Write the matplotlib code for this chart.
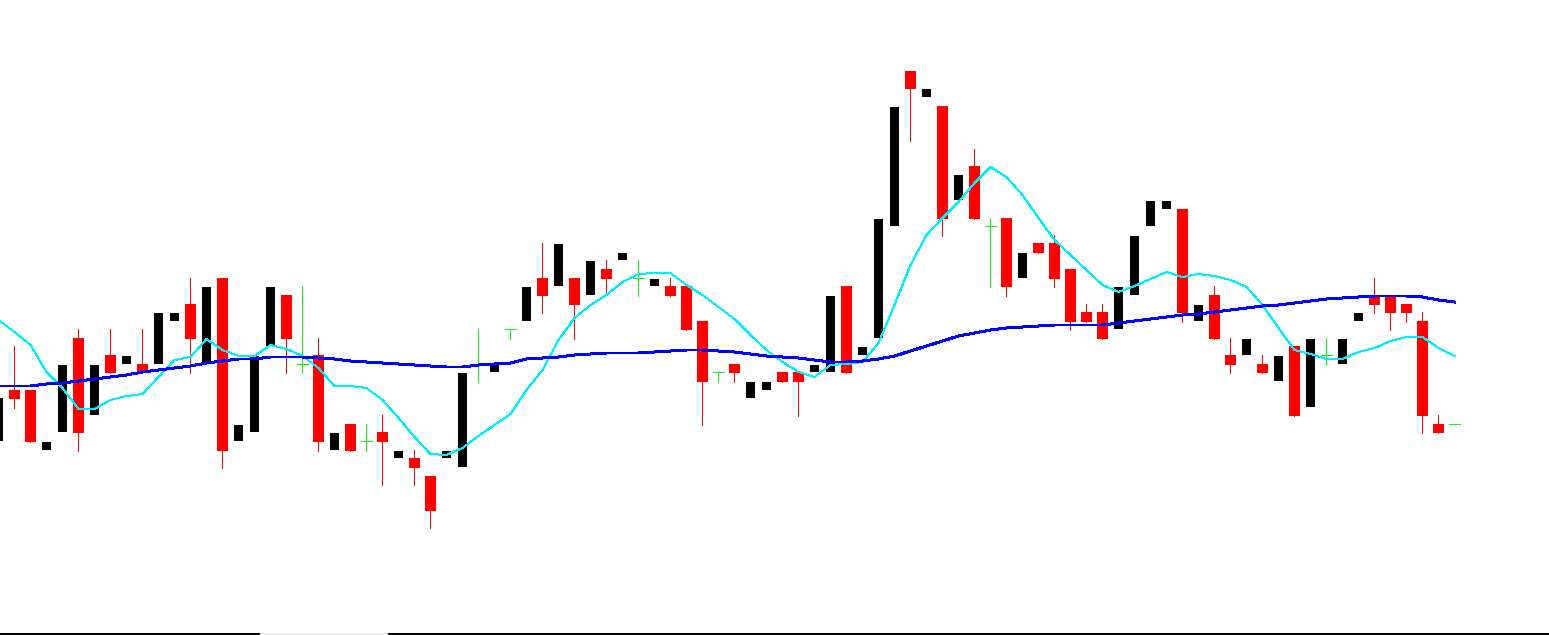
import matplotlib
matplotlib.use('Agg')
import matplotlib.pyplot as plt
from matplotlib.lines import Line2D
import numpy as np

# OHLC values (one entry per candle, left to right)
opens = [19.4, 24.5, 24.5, 18.5, 20.3, 29.7, 22.0, 28.0, 27.1, 27.1,
         27.1, 31.4, 33.1, 27.1, 35.7, 19.4, 20.3, 28.9, 34.0, 27.1,
         28.0, 18.5, 21.1, 19.4, 20.3, 17.7, 17.7, 15.9, 17.7, 16.8,
         27.0, 26.3, 30.6, 31.4, 35.7, 34.9, 35.7, 34.0, 36.6, 37.5,
         35.7, 34.9, 34.9, 34.9, 31.4, 26.3, 27.1, 23.7, 24.5, 26.3,
         26.3, 26.3, 26.3, 34.9, 28.0, 29.7, 40.9, 56.4, 53.8, 52.9,
         43.5, 46.9, 40.9, 41.7, 35.7, 39.2, 39.2, 36.6, 32.3, 32.3,
         30.6, 34.0, 40.9, 42.6, 42.6, 31.4, 34.0, 28.0, 28.0, 27.1,
         25.4, 28.9, 22.8, 28.0, 27.1, 31.4, 34.0, 34.0, 33.1, 31.4,
         21.1, 21.1]
highs = [23.7, 28.9, 24.5, 19.3, 27.0, 30.6, 27.0, 30.6, 27.9, 30.6,
         32.2, 32.2, 35.7, 34.8, 35.7, 21.0, 27.9, 34.8, 34.0, 34.9,
         29.7, 20.2, 21.1, 21.1, 22.0, 18.4, 18.5, 15.9, 18.4, 26.2,
         30.6, 27.1, 30.6, 34.8, 39.2, 39.1, 35.7, 37.4, 37.5, 38.2,
         37.5, 35.6, 35.7, 34.9, 31.4, 26.3, 27.1, 25.3, 25.3, 26.3,
         26.3, 27.0, 33.9, 34.9, 28.8, 41.6, 52.8, 56.4, 54.6, 52.9,
         46.0, 48.6, 41.7, 41.7, 38.2, 39.2, 40.0, 36.6, 33.1, 33.1,
         34.8, 39.9, 43.4, 43.4, 42.6, 33.0, 34.9, 29.7, 29.6, 28.0,
         27.9, 28.9, 29.6, 29.7, 29.6, 32.2, 35.7, 34.0, 33.1, 32.3,
         22.0, 21.1]
lows = [19.4, 22.7, 19.3, 18.5, 20.3, 18.4, 22.0, 26.2, 27.1, 26.2,
        27.1, 31.4, 26.2, 27.1, 16.7, 19.4, 20.3, 28.9, 26.2, 26.2,
        18.4, 18.5, 18.4, 18.4, 15.0, 17.7, 15.0, 10.7, 17.7, 16.8,
        25.3, 26.3, 29.6, 31.4, 32.2, 34.9, 29.6, 34.0, 34.0, 37.5,
        33.9, 34.9, 33.9, 30.5, 21.0, 25.3, 25.3, 23.7, 24.5, 25.3,
        21.9, 26.3, 26.3, 26.2, 28.0, 29.7, 40.9, 49.4, 53.8, 39.9,
        43.5, 41.6, 34.8, 33.9, 35.7, 38.2, 34.8, 30.5, 31.3, 29.6,
        30.6, 34.0, 40.9, 42.6, 31.3, 31.4, 29.6, 26.2, 28.0, 26.2,
        25.4, 21.9, 22.8, 27.0, 27.1, 31.4, 32.2, 30.5, 31.3, 20.2,
        20.2, 21.1]
closes = [23.7, 23.6, 19.3, 19.3, 27.0, 20.2, 27.0, 26.2, 27.9, 26.2,
          32.2, 32.2, 29.6, 34.8, 18.4, 21.0, 27.9, 34.8, 29.6, 27.1,
          19.3, 20.2, 18.4, 19.4, 19.3, 18.4, 16.7, 12.4, 18.4, 26.2,
          27.0, 27.1, 30.6, 34.8, 33.9, 39.1, 33.0, 37.4, 35.6, 38.2,
          35.7, 35.6, 33.9, 30.5, 25.3, 26.3, 26.2, 25.3, 25.3, 25.3,
          25.3, 27.0, 33.9, 26.2, 28.8, 41.6, 52.8, 54.6, 54.6, 41.6,
          46.0, 41.6, 40.9, 34.8, 38.2, 38.2, 35.6, 31.3, 31.3, 29.6,
          34.8, 39.9, 43.4, 43.4, 32.2, 33.0, 29.6, 27.0, 29.6, 26.2,
          27.9, 21.9, 29.6, 28.0, 29.6, 32.2, 33.0, 32.2, 32.2, 21.9,
          20.2, 21.1]

# moving averages
ma_fast = [31.5, 30.3, 29.0, 26.3, 24.7, 22.6, 22.6, 23.5, 23.9, 24.1,
           25.8, 27.5, 27.8, 29.6, 28.5, 27.9, 27.9, 29.0, 28.6, 27.9,
           26.7, 24.9, 24.9, 24.7, 23.5, 21.7, 19.8, 18.1, 18.0, 18.7,
           19.9, 21.0, 22.1, 24.5, 26.5, 29.5, 31.7, 33.0, 34.0, 35.3,
           36.1, 36.2, 36.2, 35.0, 34.0, 32.8, 31.6, 30.0, 28.5, 27.3,
           26.3, 25.8, 27.0, 27.1, 27.3, 29.2, 33.0, 37.0, 40.0, 41.7,
           43.3, 45.2, 46.8, 45.8, 44.0, 41.7, 39.5, 38.0, 36.5, 35.0,
           34.3, 34.9, 35.6, 36.3, 35.8, 36.1, 35.9, 35.5, 34.8, 33.0,
           30.7, 28.5, 28.1, 27.6, 27.6, 28.3, 28.7, 29.4, 29.8, 29.8,
           28.7, 27.9]
ma_slow = [24.9, 24.9, 24.9, 25.1, 25.2, 25.4, 25.6, 25.8, 26.0, 26.3,
           26.5, 26.7, 26.9, 27.2, 27.4, 27.6, 27.6, 27.8, 27.8, 27.8,
           27.7, 27.6, 27.4, 27.3, 27.2, 27.1, 27.0, 26.9, 26.8, 26.8,
           27.0, 27.1, 27.2, 27.6, 27.7, 27.8, 28.0, 28.1, 28.2, 28.2,
           28.2, 28.3, 28.4, 28.5, 28.5, 28.4, 28.3, 28.1, 27.9, 27.8,
           27.7, 27.5, 27.3, 27.3, 27.4, 27.6, 27.9, 28.4, 28.9, 29.4,
           29.9, 30.2, 30.5, 30.7, 30.8, 30.9, 31.0, 31.0, 31.0, 31.0,
           31.2, 31.4, 31.6, 31.8, 32.0, 32.1, 32.3, 32.5, 32.7, 32.9,
           33.0, 33.2, 33.4, 33.6, 33.7, 33.8, 33.9, 33.9, 33.9, 33.8,
           33.5, 33.3]

W, H = 1549, 635
fig = plt.figure(figsize=(W / 100, H / 100), dpi=100)
ax = fig.add_axes([0, 0, 1, 1])
ax.axis('off')

px = 0.72  # one pixel in points
x = np.arange(len(opens))
o = np.array(opens); h = np.array(highs); l = np.array(lows); c = np.array(closes)

up = c > o
down = c < o
doji = c == o

# bullish: black bodies, no visible wicks
ax.bar(x[up], (c - o)[up], bottom=o[up], width=9 / 16, color='black',
       linewidth=0, zorder=2, antialiased=False)

# bearish: red bodies with red wicks
ax.vlines(x[down], l[down], h[down], color='#ff0000', linewidth=px,
          zorder=1, antialiased=False)
ax.bar(x[down], (o - c)[down], bottom=c[down], width=11 / 16, color='#ff0000',
       linewidth=0, zorder=2, antialiased=False)

# doji: green crosses
ax.vlines(x[doji], l[doji], h[doji], color='#00ff00', linewidth=px,
          zorder=2, antialiased=False)
ax.hlines(o[doji], x[doji] - 5.5 / 16, x[doji] + 5.5 / 16, color='#00ff00',
          linewidth=px, zorder=2, antialiased=False)

ax.plot(x, ma_fast, color='#00eeff', linewidth=px, zorder=3, antialiased=False)
ax.plot(x, ma_slow, color='#0000ff', linewidth=2 * px, zorder=3, antialiased=False)

# candle i sits at pixel column 16*i - 1.5
ax.set_xlim(1.5 / 16, (W + 1.5) / 16)
ax.set_ylim(0, 63.5)

# bottom border / scroll bar
fig.add_artist(Line2D([0, 1], [1 - 632.5 / H] * 2, color='#d4d4d4', linewidth=px))
fig.add_artist(Line2D([0, 261 / W], [1 - 634 / H] * 2, color='black', linewidth=2 * px))
fig.add_artist(Line2D([387 / W, 1], [1 - 634 / H] * 2, color='black', linewidth=2 * px))
fig.add_artist(Line2D([261 / W, 387 / W], [1 - 634 / H] * 2, color='#eeeeee', linewidth=2 * px))

fig.savefig('out.png', dpi=100)
